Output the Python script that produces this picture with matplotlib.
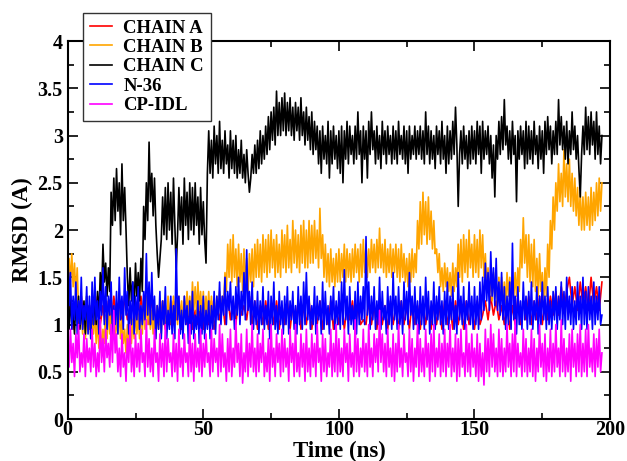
import numpy as np
import matplotlib
matplotlib.use('Agg')
import matplotlib.pyplot as plt
from matplotlib.ticker import MultipleLocator, FormatStrFormatter

# CHAIN A is read once per ns (0..197 ns), mostly hidden under N-36
chain_a = [1.1, 1.3, 0.95, 1.25, 1.0, 1.3, 1.0, 1.2, 0.95, 1.25, 1.05, 1.3, 1.0, 1.2, 0.95, 1.25, 1.0, 1.3, 1.05, 1.25,
           1.0, 1.3, 1.05, 1.2, 0.95, 1.25, 1.0, 1.3, 1.05, 1.25, 1.0, 1.3, 0.95, 1.2, 1.0, 1.25, 0.95, 1.2, 1.0, 1.25,
           1.05, 1.2, 0.95, 1.25, 1.0, 1.2, 0.95, 1.15, 1.0, 1.2, 0.95, 1.2, 1.0, 1.25, 0.95, 1.2, 1.05, 1.25, 1.0, 1.3,
           1.05, 1.25, 1.0, 1.3, 1.1, 1.2, 1.05, 1.3, 1.0, 1.25, 0.95, 1.2, 1.0, 1.25, 0.95, 1.2, 1.0, 1.25, 0.95, 1.2,
           1.0, 1.25, 0.95, 1.2, 1.0, 1.25, 0.95, 1.2, 1.0, 1.25, 0.95, 1.2, 1.0, 1.25, 0.95, 1.2, 1.0, 1.25, 0.95, 1.2,
           1.0, 1.25, 0.95, 1.2, 1.05, 1.25, 0.95, 1.2, 1.0, 1.05, 1.0, 1.25, 1.0, 1.2, 0.95, 1.25, 1.0, 1.2, 0.95, 1.25,
           1.0, 1.2, 0.95, 1.25, 1.0, 1.2, 0.95, 1.25, 1.0, 1.2, 0.95, 1.25, 1.0, 1.2, 0.95, 1.25, 1.0, 1.2, 0.95, 1.25,
           1.0, 1.2, 0.95, 1.25, 1.0, 1.2, 0.95, 1.25, 1.0, 1.2, 0.95, 1.25, 1.0, 1.1, 1.25, 1.05, 1.3, 1.1, 1.25, 1.05,
           1.2, 1.0, 1.25, 0.95, 1.2, 1.0, 1.3, 1.0, 1.25, 1.05, 1.3, 1.0, 1.25, 1.05, 1.3, 1.0, 1.25, 1.05, 1.3, 1.1,
           1.35, 1.1, 1.4, 1.15, 1.35, 1.5, 1.2, 1.4, 1.15, 1.45, 1.2, 1.4, 1.15, 1.5, 1.2, 1.4, 1.15, 1.45]

# the other four are read every 0.5 ns (0..197 ns), one row = 10 ns
chain_b = [1.35, 1.7, 1.45, 1.75, 1.4, 1.65, 1.3, 1.6, 1.15, 1.0, 1.2, 0.9, 1.15, 0.85, 1.1, 0.95, 1.2, 0.85, 1.05, 0.9,
           1.15, 0.8, 1.05, 0.75, 1.0, 0.7, 0.95, 0.8, 1.1, 0.85, 1.2, 0.9, 1.1, 0.85, 1.05, 0.8, 1.1, 0.9, 1.15, 0.85,
           1.05, 0.8, 0.95, 0.7, 1.0, 0.75, 1.1, 0.8, 1.05, 0.85, 1.15, 0.9, 1.1, 0.85, 1.2, 0.9, 1.25, 0.95, 1.3, 1.0,
           1.25, 0.95, 1.15, 0.9, 1.1, 0.85, 1.2, 0.95, 1.15, 0.9, 1.25, 1.0, 1.2, 0.95, 1.3, 1.0, 1.25, 0.95, 1.3, 1.05,
           1.25, 1.0, 1.3, 1.05, 1.25, 1.0, 1.3, 1.05, 1.35, 1.1, 1.3, 1.05, 1.45, 1.15, 1.4, 1.1, 1.45, 1.15, 1.35, 1.1,
           1.35, 1.05, 1.3, 1.1, 1.35, 1.05, 1.3, 1.0, 1.25, 1.05, 1.3, 1.1, 1.35, 1.15, 1.3, 1.2, 1.55, 1.35, 1.85, 1.5,
           1.9, 1.45, 1.95, 1.5, 1.8, 1.4, 1.85, 1.45, 1.75, 1.35, 1.8, 1.4, 1.7, 1.35, 1.75, 1.45, 1.8, 1.4, 1.85, 1.5,
           1.9, 1.5, 1.85, 1.45, 1.95, 1.55, 1.9, 1.5, 1.95, 1.55, 2.0, 1.6, 1.9, 1.5, 1.95, 1.55, 1.85, 1.5, 2.0, 1.6,
           1.95, 1.55, 2.05, 1.6, 1.9, 1.55, 2.1, 1.65, 2.0, 1.6, 1.95, 1.55, 2.05, 1.65, 2.1, 1.6, 2.0, 1.6, 2.1, 1.65,
           2.05, 1.65, 2.1, 1.7, 2.0, 1.6, 2.23, 1.7, 1.95, 1.5, 1.85, 1.45, 1.75, 1.4, 1.8, 1.45, 1.7, 1.4, 1.75, 1.45,
           1.8, 1.45, 1.75, 1.5, 1.85, 1.45, 1.8, 1.5, 1.75, 1.45, 1.8, 1.5, 1.85, 1.55, 1.8, 1.45, 1.85, 1.5, 1.9, 1.55,
           1.85, 1.5, 1.8, 1.55, 1.9, 1.6, 1.85, 1.55, 1.9, 1.6, 2.02, 1.6, 1.85, 1.55, 1.9, 1.5, 1.8, 1.55, 1.85, 1.5,
           1.8, 1.55, 1.85, 1.5, 1.8, 1.45, 1.85, 1.5, 1.75, 1.45, 1.7, 1.4, 1.75, 1.45, 1.8, 1.5, 1.75, 1.55, 2.1, 1.8,
           2.3, 1.85, 2.4, 1.95, 2.3, 1.85, 2.35, 1.9, 2.2, 1.8, 2.1, 1.75, 1.8, 1.55, 1.75, 1.4, 1.6, 1.35, 1.65, 1.4,
           1.6, 1.35, 1.55, 1.3, 1.65, 1.35, 1.6, 1.4, 1.85, 1.5, 1.9, 1.45, 1.95, 1.55, 1.9, 1.5, 2.0, 1.6, 1.85, 1.5,
           1.95, 1.55, 1.9, 1.5, 2.0, 1.6, 1.95, 1.5, 1.75, 1.4, 1.6, 1.3, 1.5, 1.25, 1.55, 1.3, 1.45, 1.2, 1.5, 1.25,
           1.5, 1.25, 1.45, 1.2, 1.55, 1.3, 1.5, 1.25, 1.45, 1.3, 1.55, 1.3, 1.6, 1.35, 1.9, 1.6, 2.13, 1.65, 1.95, 1.5,
           1.95, 1.45, 1.85, 1.4, 1.9, 1.35, 1.7, 1.3, 1.75, 1.35, 1.55, 1.2, 1.6, 1.3, 1.85, 1.5, 2.1, 1.8, 2.35, 2.0,
           2.5, 2.2, 2.7, 2.3, 2.6, 2.25, 2.85, 2.35, 2.7, 2.3, 2.75, 2.25, 2.6, 2.2, 2.55, 2.15, 2.45, 2.05, 2.4, 2.0,
           2.35, 2.0, 2.4, 2.05, 2.35, 2.0, 2.45, 2.05, 2.4, 2.1, 2.5, 2.15, 2.55, 2.2, 2.5]

chain_c = [1.2, 0.95, 1.3, 1.0, 1.15, 0.9, 1.25, 1.05, 1.3, 0.95, 1.2, 1.0, 1.25, 0.9, 1.3, 1.05, 1.2, 0.95, 1.25, 1.0,
           1.3, 1.0, 1.35, 1.05, 1.55, 1.3, 1.85, 1.45, 1.65, 1.3, 1.6, 1.35, 2.4, 2.05, 2.55, 2.1, 2.65, 2.2, 2.5, 1.95,
           2.7, 2.1, 2.45, 2.0, 1.5, 1.2, 1.6, 1.25, 1.45, 1.15, 1.65, 1.3, 1.55, 1.25, 1.7, 1.35, 2.25, 1.9, 2.5, 2.1,
           2.93, 2.3, 2.6, 2.15, 2.55, 2.05, 1.75, 1.5, 1.7, 1.9, 2.35, 1.95, 2.45, 1.9, 2.5, 2.0, 2.4, 1.85, 2.55, 2.05,
           1.6, 1.95, 2.45, 2.0, 2.35, 1.85, 2.55, 2.05, 2.4, 1.9, 2.5, 2.0, 2.45, 1.95, 2.5, 2.05, 2.35, 1.85, 2.45, 1.95,
           2.3, 1.9, 1.65, 2.6, 3.05, 2.6, 2.95, 2.55, 3.1, 2.7, 3.0, 2.6, 3.15, 2.65, 2.95, 2.6, 3.05, 2.7, 2.9, 2.55,
           3.05, 2.65, 2.95, 2.6, 3.0, 2.55, 2.85, 2.6, 2.95, 2.55, 2.8, 2.5, 2.85, 2.6, 2.4, 2.55, 2.8, 2.6, 2.9, 2.6,
           2.95, 2.65, 3.05, 2.7, 3.0, 2.75, 3.1, 2.8, 3.2, 2.85, 3.25, 2.95, 3.3, 2.9, 3.47, 3.0, 3.35, 3.0, 3.4, 3.05,
           3.45, 3.0, 3.35, 3.05, 3.4, 3.0, 3.3, 2.95, 3.35, 3.05, 3.3, 2.95, 3.4, 3.0, 3.25, 2.9, 3.3, 2.95, 3.2, 2.85,
           3.25, 2.8, 3.15, 2.85, 3.1, 2.7, 3.05, 2.6, 3.1, 2.75, 3.0, 2.7, 3.15, 2.55, 3.05, 2.7, 3.1, 2.75, 3.0, 2.65,
           3.05, 2.6, 3.1, 2.5, 3.05, 2.75, 3.15, 2.7, 3.1, 2.8, 3.0, 2.7, 3.1, 2.75, 3.25, 2.8, 3.05, 2.5, 3.1, 2.75,
           3.05, 2.55, 3.15, 2.8, 3.25, 2.85, 3.05, 2.7, 3.1, 2.75, 3.0, 2.65, 3.15, 2.8, 3.05, 2.7, 3.1, 2.8, 3.0, 2.7,
           3.1, 2.75, 3.05, 2.7, 3.15, 2.8, 3.0, 2.75, 3.1, 2.7, 3.05, 2.6, 3.1, 2.75, 3.0, 2.8, 3.1, 2.75, 3.05, 2.8,
           3.1, 2.75, 3.05, 2.7, 3.25, 2.8, 3.1, 2.7, 3.05, 2.75, 3.0, 2.65, 3.1, 2.8, 3.05, 2.7, 3.15, 2.75, 3.0, 2.6,
           3.1, 2.7, 3.05, 2.75, 3.15, 2.8, 3.3, 2.9, 2.25, 2.8, 3.05, 2.7, 3.1, 2.75, 3.0, 2.65, 3.05, 2.7, 3.1, 2.75,
           3.05, 2.7, 3.15, 2.8, 3.1, 2.6, 3.15, 2.75, 3.05, 2.8, 3.1, 2.7, 3.0, 2.55, 2.9, 2.35, 3.0, 2.75, 3.15, 2.8,
           3.2, 2.85, 3.38, 2.9, 3.1, 2.75, 3.05, 2.7, 3.15, 2.8, 3.0, 2.3, 3.05, 2.75, 3.1, 2.8, 3.05, 2.65, 3.15, 2.7,
           3.1, 2.75, 3.05, 2.7, 3.15, 2.8, 3.0, 2.65, 3.1, 2.75, 3.05, 2.6, 3.15, 2.8, 3.2, 2.85, 3.1, 2.7, 3.05, 2.8,
           3.15, 2.8, 3.38, 2.9, 3.2, 2.85, 3.1, 2.75, 3.15, 2.7, 3.05, 2.8, 3.25, 2.85, 3.1, 2.75, 3.0, 2.65, 2.35, 2.8,
           3.1, 2.8, 3.3, 2.85, 3.2, 2.8, 3.25, 2.9, 3.15, 2.75, 3.25, 2.8, 3.1, 2.7, 3.0]

n36 = [1.85, 1.2, 1.55, 0.95, 1.3, 1.05, 1.45, 0.9, 1.25, 1.0, 1.5, 0.95, 1.2, 1.05, 1.4, 0.9, 1.3, 0.85, 1.45, 1.0,
       1.5, 1.05, 1.25, 0.9, 1.35, 1.1, 1.6, 1.0, 1.4, 0.95, 1.3, 1.1, 1.45, 0.9, 1.2, 1.0, 1.35, 0.9, 1.5, 1.05,
       1.3, 0.95, 1.6, 1.1, 1.35, 0.9, 1.25, 1.0, 1.45, 0.9, 1.3, 1.05, 1.4, 0.95, 1.2, 1.0, 1.35, 1.05, 1.75, 1.1,
       1.45, 1.0, 1.55, 1.05, 1.3, 0.85, 1.2, 0.95, 1.35, 0.85, 1.25, 1.0, 1.4, 0.85, 1.15, 0.95, 1.3, 0.9, 1.2, 0.85,
       1.8, 1.05, 1.3, 0.9, 1.15, 0.85, 1.3, 1.0, 1.2, 0.8, 1.25, 0.9, 1.35, 0.85, 1.1, 0.95, 1.25, 0.8, 1.2, 0.9,
       1.3, 0.85, 1.15, 0.95, 1.25, 0.85, 1.2, 0.95, 1.35, 0.9, 1.3, 1.05, 1.45, 1.0, 1.3, 1.1, 1.5, 1.0, 1.35, 1.15,
       1.45, 1.05, 1.3, 0.95, 1.4, 1.1, 1.5, 1.0, 1.35, 1.1, 1.55, 1.05, 1.79, 1.15, 1.35, 1.0, 1.45, 0.95, 1.25, 1.0,
       1.35, 0.9, 1.25, 1.0, 1.4, 0.95, 1.2, 1.0, 1.35, 0.85, 1.3, 1.0, 1.45, 0.95, 1.2, 0.9, 1.35, 1.0, 1.25, 0.9,
       1.3, 1.0, 1.4, 0.9, 1.25, 1.05, 1.35, 0.95, 1.2, 0.9, 1.4, 1.0, 1.3, 0.95, 1.45, 1.0, 1.55, 1.05, 1.3, 0.95,
       1.2, 1.0, 1.4, 0.9, 1.3, 1.05, 1.25, 0.9, 1.45, 0.95, 1.35, 1.0, 1.2, 0.9, 1.3, 1.05, 1.4, 0.95, 1.25, 1.0,
       1.35, 0.95, 1.45, 1.0, 1.58, 1.05, 1.3, 0.9, 1.4, 1.0, 1.2, 0.95, 1.35, 0.9, 1.45, 1.0, 1.3, 1.05, 1.4, 1.0,
       1.93, 1.1, 1.45, 0.95, 1.3, 1.05, 1.4, 0.95, 1.25, 1.0, 1.5, 0.95, 1.35, 1.05, 1.2, 0.9, 1.4, 1.0, 1.3, 0.95,
       1.55, 1.05, 1.3, 0.95, 1.4, 1.0, 1.25, 0.9, 1.45, 1.05, 1.35, 1.0, 1.55, 1.1, 1.3, 0.95, 1.4, 1.0, 1.25, 0.9,
       1.4, 1.0, 1.3, 0.95, 1.5, 1.05, 1.35, 0.9, 1.25, 1.0, 1.45, 0.95, 1.3, 1.05, 1.4, 1.0, 1.25, 0.9, 1.35, 1.0,
       1.45, 0.95, 1.3, 1.05, 1.4, 0.95, 1.2, 0.9, 1.55, 1.05, 1.3, 1.0, 1.4, 0.95, 1.25, 1.05, 1.45, 1.0, 1.3, 0.95,
       1.4, 1.0, 1.3, 0.95, 1.45, 1.05, 1.5, 1.15, 1.65, 1.25, 1.55, 1.15, 1.77, 1.3, 1.6, 1.2, 1.7, 1.15, 1.45, 1.1,
       1.55, 1.05, 1.4, 0.95, 1.3, 1.0, 1.45, 0.95, 1.86, 1.05, 1.3, 0.9, 1.4, 1.0, 1.25, 0.95, 1.45, 1.05, 1.3, 0.95,
       1.35, 1.0, 1.45, 0.95, 1.25, 1.05, 1.4, 0.9, 1.3, 1.0, 1.45, 1.05, 1.3, 0.95, 1.4, 1.0, 1.25, 0.95, 1.35, 1.05,
       1.4, 0.95, 1.3, 1.05, 1.45, 1.0, 1.35, 0.95, 1.5, 1.05, 1.3, 1.0, 1.4, 0.95, 1.25, 1.0, 1.45, 1.05, 1.3, 0.95,
       1.5, 1.0, 1.35, 0.95, 1.4, 1.05, 1.3, 0.95, 1.45, 1.0, 1.3, 1.05, 1.4, 1.0, 1.1]

cp_idl = [0.75, 0.55, 0.95, 0.6, 0.8, 0.45, 0.9, 0.65, 1.0, 0.5, 0.7, 0.55, 0.9, 0.45, 0.85, 0.6, 0.75, 0.5, 0.95, 0.55,
          0.8, 0.45, 0.7, 0.5, 1.05, 0.6, 0.85, 0.5, 0.95, 0.65, 0.8, 0.55, 1.0, 0.6, 1.15, 0.7, 0.9, 0.5, 0.75, 0.45,
          0.9, 0.55, 0.7, 0.4, 0.85, 0.6, 1.0, 0.5, 0.75, 0.45, 0.9, 0.55, 0.8, 0.5, 0.95, 0.6, 0.7, 0.45, 1.05, 0.55,
          0.85, 0.5, 0.75, 0.45, 0.95, 0.6, 0.7, 0.4, 0.9, 0.55, 0.8, 0.45, 1.0, 0.5, 0.85, 0.6, 0.7, 0.45, 0.9, 0.5,
          0.8, 0.4, 0.95, 0.55, 0.75, 0.45, 0.9, 0.6, 0.7, 0.45, 1.0, 0.5, 0.8, 0.4, 0.9, 0.55, 0.75, 0.5, 0.95, 0.45,
          0.8, 0.55, 0.9, 0.6, 0.7, 0.45, 0.95, 0.5, 0.85, 0.6, 0.75, 0.45, 1.0, 0.5, 0.9, 0.55, 0.7, 0.4, 0.85, 0.5,
          0.95, 0.45, 0.75, 0.55, 1.05, 0.6, 0.8, 0.45, 0.9, 0.38, 0.7, 0.5, 0.95, 0.45, 0.8, 0.55, 1.0, 0.5, 0.75, 0.45,
          0.9, 0.5, 0.8, 0.6, 0.95, 0.45, 0.7, 0.5, 0.85, 0.4, 1.0, 0.55, 0.75, 0.45, 0.9, 0.6, 0.8, 0.45, 0.95, 0.5,
          0.85, 0.55, 0.75, 0.4, 0.95, 0.6, 0.8, 0.45, 1.0, 0.5, 0.7, 0.45, 0.9, 0.55, 0.8, 0.4, 0.95, 0.5, 0.75, 0.45,
          0.9, 0.55, 0.8, 0.45, 1.0, 0.6, 0.75, 0.4, 0.9, 0.5, 0.85, 0.45, 0.7, 0.55, 0.95, 0.45, 0.8, 0.5, 1.0, 0.45,
          0.85, 0.5, 0.75, 0.45, 0.95, 0.6, 0.8, 0.4, 0.9, 0.55, 0.7, 0.45, 1.05, 0.5, 0.85, 0.45, 0.75, 0.55, 0.95, 0.5,
          0.8, 0.45, 1.0, 0.55, 0.75, 0.45, 0.9, 0.6, 0.85, 0.5, 1.15, 0.6, 0.9, 0.5, 0.8, 0.45, 0.95, 0.55, 0.75, 0.45,
          0.9, 0.4, 0.8, 0.5, 1.0, 0.55, 0.75, 0.45, 0.9, 0.6, 0.7, 0.45, 0.95, 0.5, 0.85, 0.4, 0.75, 0.55, 1.0, 0.45,
          0.85, 0.5, 0.75, 0.45, 0.95, 0.55, 0.8, 0.4, 0.9, 0.5, 1.0, 0.45, 0.75, 0.55, 0.9, 0.45, 0.8, 0.5, 0.95, 0.45,
          0.8, 0.55, 1.0, 0.45, 0.75, 0.5, 0.9, 0.4, 0.85, 0.45, 0.95, 0.55, 0.7, 0.45, 1.0, 0.5, 0.8, 0.45, 0.9, 0.55,
          0.75, 0.45, 0.9, 0.4, 0.8, 0.45, 0.7, 0.36, 0.95, 0.5, 0.85, 0.45, 1.0, 0.55, 0.9, 0.5, 0.75, 0.45, 0.95, 0.5,
          0.85, 0.45, 0.75, 0.5, 1.0, 0.55, 0.8, 0.45, 0.9, 0.5, 1.05, 0.45, 0.8, 0.55, 0.7, 0.45, 0.95, 0.5, 0.85, 0.45,
          0.75, 0.5, 0.95, 0.45, 0.85, 0.4, 0.75, 0.5, 1.0, 0.55, 0.8, 0.45, 0.9, 0.4, 0.75, 0.5, 0.95, 0.45, 0.8, 0.5,
          1.0, 0.55, 0.75, 0.45, 1.05, 0.5, 0.85, 0.45, 0.75, 0.5, 0.9, 0.4, 0.95, 0.55, 0.8, 0.45, 0.9, 0.5, 1.0, 0.45,
          0.8, 0.5, 0.95, 0.45, 1.0, 0.55, 0.75, 0.5, 0.9, 0.45, 0.85, 0.55, 0.95, 0.5, 0.7]

series = [('CHAIN A', chain_a, 1.0, '#ff0000'),
          ('CHAIN B', chain_b, 0.5, '#ffa500'),
          ('CHAIN C', chain_c, 0.5, '#000000'),
          ('N-36', n36, 0.5, '#0000ff'),
          ('CP-IDL', cp_idl, 0.5, '#ff00ff')]

plt.rcParams['font.family'] = ['Liberation Serif', 'DejaVu Serif']
plt.rcParams['font.weight'] = 'bold'

fig = plt.figure(figsize=(6.27, 4.61), dpi=100)
ax = fig.add_axes([0.108, 0.091, 0.865, 0.82])

for name, vals, step, col in series:
    t = np.arange(len(vals)) * step
    ax.plot(t, vals, color=col, lw=1.2, label=name)

ax.set_xlim(0, 200)
ax.set_ylim(0, 4)
ax.xaxis.set_major_locator(MultipleLocator(50))
ax.xaxis.set_minor_locator(MultipleLocator(25))
ax.yaxis.set_major_locator(MultipleLocator(0.5))
ax.yaxis.set_minor_locator(MultipleLocator(0.25))
ax.yaxis.set_major_formatter(FormatStrFormatter('%g'))
ax.tick_params(which='both', direction='in', top=True, right=True, width=1.2)
ax.tick_params(which='major', length=7, labelsize=14.5)
ax.tick_params(which='minor', length=4)
ax.tick_params(axis='x', pad=1)
ax.tick_params(axis='y', pad=3.5)
for s in ax.spines.values():
    s.set_linewidth(1.5)

ax.set_xlabel('Time (ns)', fontsize=16.5, fontweight='bold', labelpad=0)
ax.set_ylabel('RMSD (A)', fontsize=16.5, fontweight='bold', labelpad=3)

leg = ax.legend(loc='upper left', bbox_to_anchor=(83 / 627, 1 - 13 / 461),
                bbox_transform=fig.transFigure, borderaxespad=0,
                fancybox=False, framealpha=1, edgecolor='#333333',
                handlelength=1.2, handletextpad=0.6, labelspacing=0.12,
                borderpad=0.35, prop={'size': 13.5, 'weight': 'bold'})
leg.get_frame().set_linewidth(1.0)

plt.savefig('out.png', dpi=100)
plt.close()
